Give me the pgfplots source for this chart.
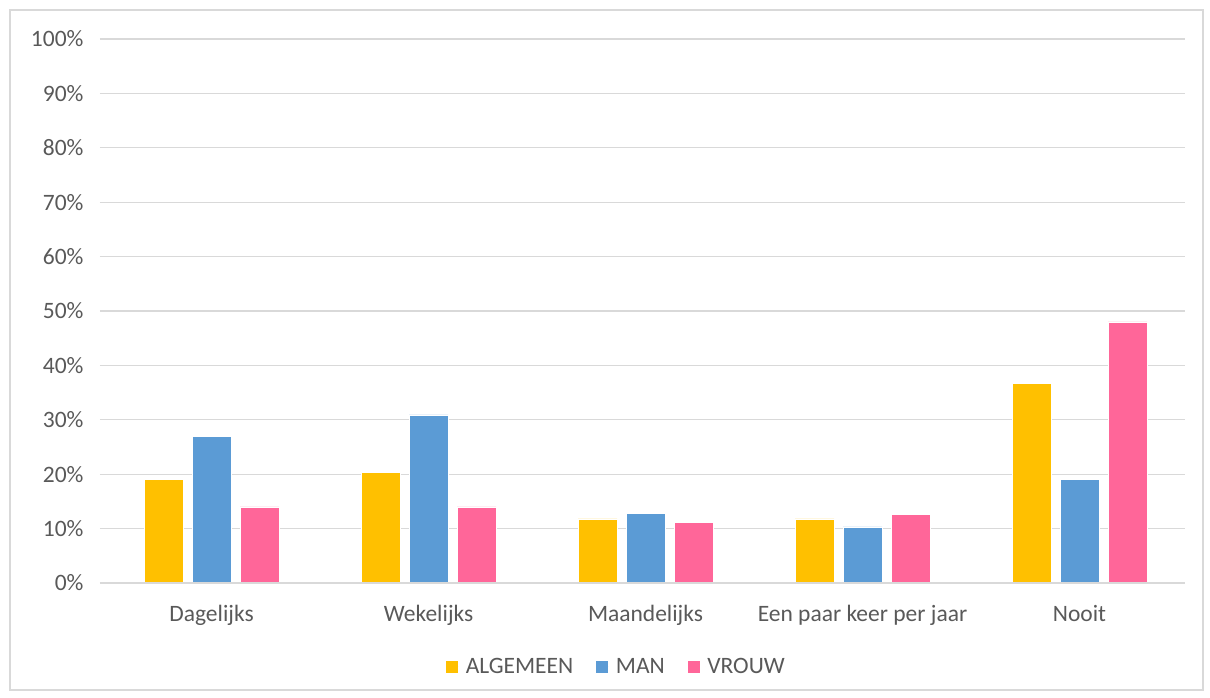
\documentclass[border=0pt]{standalone}
\usepackage{pgfplots}
\pgfplotsset{compat=1.18}
\usepackage{fontspec}
\setmainfont{Carlito}
\definecolor{alg}{HTML}{FFC000}
\definecolor{man}{HTML}{5B9BD5}
\definecolor{vrouw}{HTML}{FF6699}
\definecolor{txt}{HTML}{595959}
\definecolor{grd}{HTML}{D9D9D9}
\begin{document}
\begin{tikzpicture}[x=1pt,y=1pt]
\useasboundingbox (0,0) rectangle (1210,697);
\draw[grd, line width=1.2pt] (10,7) rectangle (1203,687);
\begin{axis}[
  at={(100pt,114pt)}, anchor=south west,
  scale only axis, width=1085pt, height=544pt,
  ybar=9pt, bar width=39pt,
  xmin=-0.514, xmax=4.486, ymin=0, ymax=100,
  xtick={0,1,2,3,4},
  xticklabels={Dagelijks,Wekelijks,Maandelijks,Een paar keer per jaar,Nooit},
  ytick={0,10,...,100},
  yticklabel={\pgfmathprintnumber{\tick}\%},
  /pgf/number format/assume math mode=true,
  tick label style={font=\fontsize{23.5}{28}\selectfont, text=txt},
  major tick length=0pt,
  ymajorgrids, grid style={grd, line width=1.2pt},
  axis line style={draw=none},
  axis x line*=bottom, axis y line*=left,
  xticklabel style={yshift=-19pt},
  yticklabel style={xshift=-13pt},
  legend columns=3,
  legend style={at={(0.4756,-0.154)}, anchor=center, draw=none, fill=none,
    font=\fontsize{23.5}{28}\selectfont, text=txt,
    /tikz/every odd column/.append style={column sep=0pt},
    /tikz/every even column/.append style={column sep=20pt}},
  legend image code/.code={\fill[#1] (0pt,-7pt) rectangle (13pt,6pt); \path (13pt,0pt) -- (18pt,0pt);},
]
\addplot[fill=alg, draw=white, line width=0.6pt] coordinates {(0,19.0) (1,20.4) (2,11.8) (3,11.8) (4,36.7)};
\addplot[fill=man, draw=white, line width=0.6pt] coordinates {(0,27.0) (1,30.9) (2,12.8) (3,10.3) (4,19.0)};
\addplot[fill=vrouw, draw=white, line width=0.6pt] coordinates {(0,14.0) (1,14.0) (2,11.2) (3,12.6) (4,48.0)};
\draw[grd, line width=1.2pt] (rel axis cs:0,0) -- (rel axis cs:1,0);
\legend{ALGEMEEN,MAN,VROUW}
\end{axis}
\end{tikzpicture}
\end{document}
